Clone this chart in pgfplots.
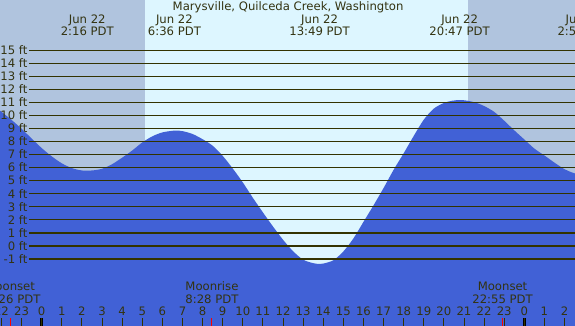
\documentclass[border=0pt]{standalone}
\usepackage{pgfplots}
\pgfplotsset{compat=1.18}
\usepackage{fontspec}
\setmainfont{DejaVu Sans}
\definecolor{night}{RGB}{176,196,222}
\definecolor{day}{RGB}{221,246,255}
\definecolor{tide}{RGB}{65,97,214}
\definecolor{tc}{RGB}{51,51,17}
\definecolor{lc}{RGB}{51,51,0}
\newcommand\tl[5]{%
  \node[anchor=base,tc,inner sep=0pt] at (axis cs:#1,#2) {#4};
  \node[anchor=base,tc,inner sep=0pt] at (axis cs:#1,#3) {#5};}
\begin{document}
\begin{tikzpicture}[font=\fontsize{11.7}{12}\selectfont]
\useasboundingbox (0,0) rectangle (575bp,326bp);
\clip (0,0) rectangle (575bp,326bp);
\begin{axis}[
  at={(0,0)}, anchor=south west,
  width=575bp, height=326bp, scale only axis,
  xmin=-2.074, xmax=26.52, ymin=-6.144, ymax=18.89,
  axis line style={draw=none},
  axis on top,
  ytick=\empty,
  xtick={-2,...,26},
  xticklabels={22,23,0,1,2,3,4,5,6,7,8,9,10,11,12,13,14,15,16,17,18,19,20,21,22,23,0,1,2},
  xtick pos=lower, tick align=inside, major tick length=8bp,
  xtick style={draw=lc, line width=1bp},
  xticklabel style={anchor=base, yshift=10.3bp, text=tc, inner sep=0pt},
  /pgf/number format/assume math mode=true,
]
% night / day background
\addplot[fill=night, draw=none] coordinates {(-2.2,-7) (-2.2,20) (26.7,20) (26.7,-7)};
\addplot[fill=day, draw=none] coordinates {(5.14,-7) (5.14,20) (21.2,20) (21.2,-7)};
% tide
\addplot[fill=tide, draw=none, smooth, tension=0.5] coordinates {
(-2.2,10.55) (-1.5,9.68) (-1.0,9.0) (-0.5,8.25) (0.0,7.52) (0.5,6.88) (1.0,6.35)
(1.5,5.98) (2.0,5.80) (2.5,5.80) (3.0,5.93) (3.5,6.28) (4.0,6.78) (4.5,7.33)
(5.0,7.95) (5.5,8.42) (6.0,8.72) (6.6,8.86) (7.0,8.82) (7.5,8.60) (8.0,8.20)
(8.5,7.70) (9.0,6.92) (9.5,5.95) (10.0,4.88) (10.5,3.70) (11.0,2.58) (11.5,1.50)
(12.0,0.48) (12.5,-0.40) (13.0,-1.05) (13.5,-1.32) (13.82,-1.38) (14.0,-1.35)
(14.5,-1.10) (15.0,-0.42) (15.5,0.58) (16.0,1.85) (16.5,3.12) (17.0,4.45)
(17.5,5.85) (18.0,7.12) (18.5,8.45) (19.0,9.70) (19.5,10.55) (20.0,10.98)
(20.4,11.15) (20.8,11.21) (21.2,11.15) (21.6,11.0) (22.0,10.75) (22.5,10.30)
(23.0,9.62) (23.5,8.88) (24.0,8.18) (24.5,7.48) (25.0,6.95) (25.5,6.40)
(26.0,5.90) (26.5,5.58) (26.97,5.5)
} -- (axis cs:26.97,-7) -- (axis cs:-2.2,-7) -- cycle;
% level lines
\pgfplotsinvokeforeach{-1,...,15}{
  \addplot[lc, line width=1.1bp] coordinates {(-0.632,#1) (26.7,#1)};
  \node[anchor=base east, tc, inner sep=0pt, yshift=-4.1bp] at (axis cs:-0.7,#1) {#1 ft};
}
% midnight and moon ticks
\addplot[black, line width=3.3bp] coordinates {(0,-6.144) (0,-5.53)};
\addplot[black, line width=3.3bp] coordinates {(24,-6.144) (24,-5.53)};
\addplot[red, line width=1bp] coordinates {(-1.567,-6.144) (-1.567,-5.53)};
\addplot[red, line width=1bp] coordinates {(8.467,-6.144) (8.467,-5.53)};
\addplot[red, line width=1bp] coordinates {(22.917,-6.144) (22.917,-5.53)};
% texts
\node[anchor=base, tc, inner sep=0pt] at (axis cs:12.25,18.05) {Marysville, Quilceda Creek, Washington};
\tl{2.267}{17.05}{16.13}{Jun 22}{2:16 PDT}
\tl{6.6}{17.05}{16.13}{Jun 22}{6:36 PDT}
\tl{13.817}{17.05}{16.13}{Jun 22}{13:49 PDT}
\tl{20.783}{17.05}{16.13}{Jun 22}{20:47 PDT}
\tl{26.97}{17.05}{16.13}{Jun 23}{2:58 PDT}
\tl{-1.567}{-3.456}{-4.378}{Moonset}{22:26 PDT}
\tl{8.467}{-3.456}{-4.378}{Moonrise}{8:28 PDT}
\tl{22.917}{-3.456}{-4.378}{Moonset}{22:55 PDT}
\end{axis}
\end{tikzpicture}
\end{document}
